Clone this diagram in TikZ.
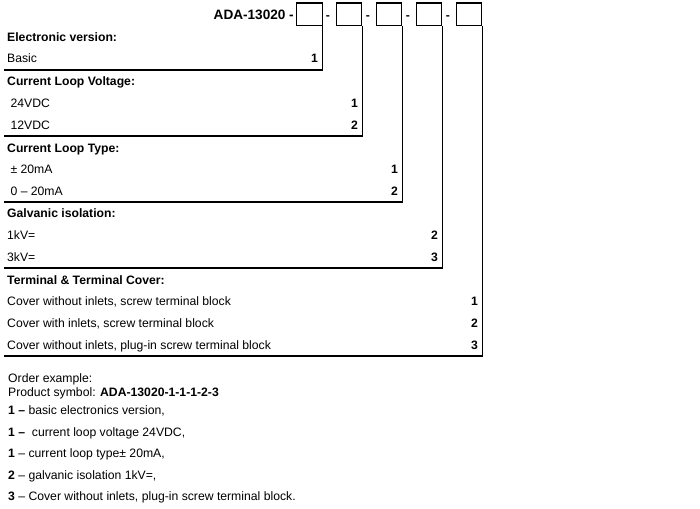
\documentclass[tikz,border=0pt]{standalone}
\usepackage{fontspec}
\setmainfont{Liberation Sans}
\begin{document}
\begin{tikzpicture}[x=1pt,y=-1pt,
  lbl/.style={anchor=base west,inner sep=0pt,font=\fontsize{12.2}{14}\selectfont},
  hd/.style={lbl,font=\fontsize{12.2}{14}\selectfont\bfseries},
  num/.style={anchor=base east,inner sep=0pt,font=\fontsize{12.2}{14}\selectfont\bfseries},
  sepdash/.style={anchor=base,inner sep=0pt,font=\fontsize{12.2}{14}\selectfont\bfseries},
  codebox/.style={draw,line width=1.2pt,minimum width=25.5pt,minimum height=22.5pt,inner sep=0pt,anchor=north west},
  frame/.style={line width=1.2pt}]
\useasboundingbox (0,0) rectangle (700,508);
% header
\node[anchor=base east,inner sep=0pt,font=\fontsize{13.6}{16}\selectfont\bfseries] (title) at (294,19.5) {ADA-13020 -};
\node[codebox] (b1) at (296,2.5) {};
\node[codebox] (b2) at (335.5,2.5) {};
\node[codebox] (b3) at (375.5,2.5) {};
\node[codebox] (b4) at (415.5,2.5) {};
\node[codebox] (b5) at (455.5,2.5) {};
\node[sepdash] (d1) at (328,19.5) {-};
\node[sepdash] (d2) at (368,19.5) {-};
\node[sepdash] (d3) at (408,19.5) {-};
\node[sepdash] (d4) at (448,19.5) {-};
% corners
\coordinate (c1) at (4,70);
\coordinate (c2) at (4,136);
\coordinate (c3) at (4,202);
\coordinate (c4) at (4,268);
\coordinate (c5) at (4,356);
\draw[frame] (b1.south east) |- (c1);
\draw[frame] (b2.south east) |- (c2);
\draw[frame] (b3.south east) |- (c3);
\draw[frame] (b4.south east) |- (c4);
\draw[frame] (b5.south east) |- (c5);
% section 1
\node[hd] (h1) at (7,42) {Electronic version:};
\node[lbl] (t11) at (7,63) {Basic};
\node[num] (n11) at (318,63) {1};
% section 2
\node[hd] (h2) at (7,86) {Current Loop Voltage:};
\node[lbl] (t21) at (7,107) {\ 24VDC};
\node[num] (n21) at (358,107) {1};
\node[lbl] (t22) at (7,129) {\ 12VDC};
\node[num] (n22) at (358,129) {2};
% section 3
\node[hd] (h3) at (7,152) {Current Loop Type:};
\node[lbl] (t31) at (7,173) {\ ± 20mA};
\node[num] (n31) at (398,173) {1};
\node[lbl] (t32) at (7,195) {\ 0 – 20mA};
\node[num] (n32) at (398,195) {2};
% section 4
\node[hd] (h4) at (7,217) {Galvanic isolation:};
\node[lbl] (t41) at (7,239) {1kV=};
\node[num] (n41) at (438,239) {2};
\node[lbl] (t42) at (7,261) {3kV=};
\node[num] (n42) at (438,261) {3};
% section 5
\node[hd] (h5) at (7,284) {Terminal \& Terminal Cover:};
\node[lbl] (t51) at (7,305) {Cover without inlets, screw terminal block};
\node[num] (n51) at (478,305) {1};
\node[lbl] (t52) at (7,327) {Cover with inlets, screw terminal block};
\node[num] (n52) at (478,327) {2};
\node[lbl] (t53) at (7,349) {Cover without inlets, plug-in screw terminal block};
\node[num] (n53) at (478,349) {3};
% example
\node[lbl] (e0) at (8,382) {Order example:};
\node[lbl] (e1) at (8,396) {Product symbol: \textbf{ADA-13020-1-1-1-2-3}};
\node[lbl] (e2) at (8,414) {\textbf{1 –} basic electronics version,};
\node[lbl] (e3) at (8,436) {\textbf{1 –} \ current loop voltage 24VDC,};
\node[lbl] (e4) at (8,457) {\textbf{1} – current loop type± 20mA,};
\node[lbl] (e5) at (8,479) {\textbf{2} – galvanic isolation 1kV=,};
\node[lbl] (e6) at (8,500) {\textbf{3} – Cover without inlets, plug-in screw terminal block.};
\end{tikzpicture}
\end{document}
